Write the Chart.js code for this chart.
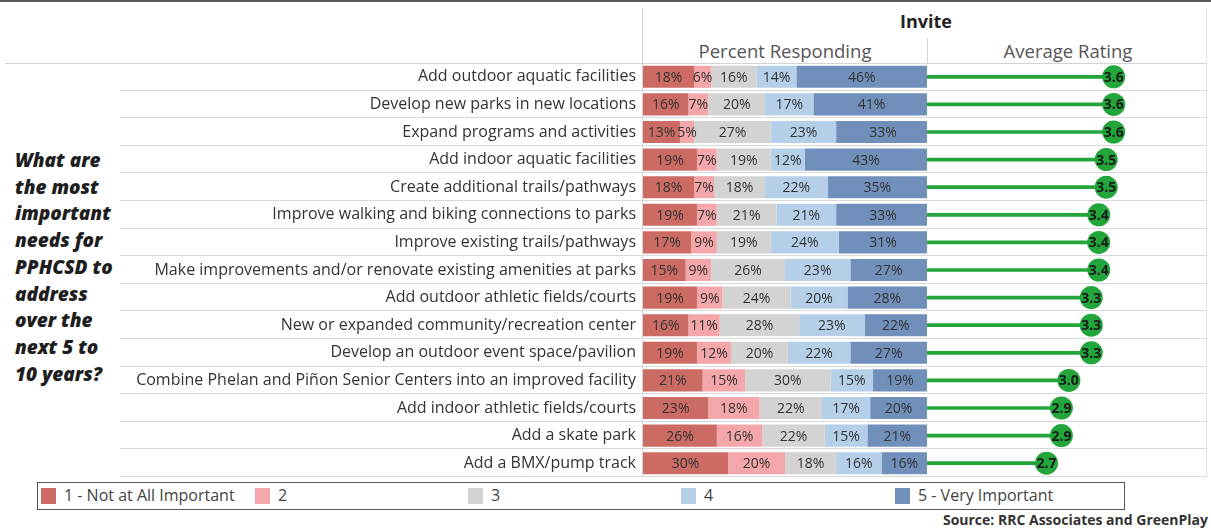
<!DOCTYPE html>
<html>
<head>
<meta charset="utf-8">
<script src="https://cdn.jsdelivr.net/npm/chart.js@4.4.1/dist/chart.umd.min.js"></script>
<style>
  body { margin: 0; background: #fff; font-family: 'Open Sans', sans-serif; }
  #page { position: relative; width: 1211px; height: 529px; overflow: hidden; background: #fff; }
  .abs { position: absolute; }
  .rule { position: absolute; background: #d4d4d4; }
  #topRule { left: 0; top: 0; width: 1211px; height: 2px; background: #5a5a5a; }
  #title { left: 870px; width: 112px; top: 9px; text-align: center; font-weight: 700; font-size: 18px; color: #222; }
  .sub { top: 38px; text-align: center; font-size: 18.5px; color: #555; white-space: nowrap; }
  #question { left: 15px; top: 147px; font-weight: 800; font-style: italic; font-size: 19px; line-height: 26.7px; color: #1e1e1e; }
  #barCanvas { position: absolute; left: 0; top: 63px; }
  #rateCanvas { position: absolute; left: 927px; top: 63px; }
  #legend { left: 37px; top: 482px; width: 1086px; height: 26px; border: 1px solid #555; }
  .swatch { position: absolute; top: 5px; width: 15px; height: 16px; }
  .legText { position: absolute; top: 1px; font-size: 16px; color: #444; white-space: nowrap; }
  #source { right: 3px; top: 510px; font-weight: 700; font-size: 14px; color: #333; }
</style>
</head>
<body>
<div id="page">
  <div id="topRule" class="abs"></div>
  <div class="rule" style="left:5px; top:63px; width:1202px; height:1px;"></div>
  <div class="rule" style="left:642px; top:8px; width:1px; height:469px;"></div>
  <div class="rule" style="left:927px; top:38px; width:1px; height:26px;"></div>
  <div class="rule" style="left:1206px; top:8px; width:1px; height:469px; background:#e4e4e4;"></div>
  <div id="title" class="abs">Invite</div>
  <div class="abs sub" style="left:643px; width:284px;">Percent Responding</div>
  <div class="abs sub" style="left:928px; width:280px;">Average Rating</div>
  <div id="question" class="abs">What are<br>the most<br>important<br>needs for<br>PPHCSD to<br>address<br>over the<br>next 5 to<br>10 years?</div>
  <canvas id="barCanvas" width="927" height="414"></canvas>
  <canvas id="rateCanvas" width="280" height="414"></canvas>
  <div id="legend" class="abs"></div>
  <div id="source" class="abs">Source: RRC Associates and GreenPlay</div>
</div>
<script>
// Needs asked about, top to bottom
const categories = [
  'Add outdoor aquatic facilities',
  'Develop new parks in new locations',
  'Expand programs and activities',
  'Add indoor aquatic facilities',
  'Create additional trails/pathways',
  'Improve walking and biking connections to parks',
  'Improve existing trails/pathways',
  'Make improvements and/or renovate existing amenities at parks',
  'Add outdoor athletic fields/courts',
  'New or expanded community/recreation center',
  'Develop an outdoor event space/pavilion',
  'Combine Phelan and Piñon Senior Centers into an improved facility',
  'Add indoor athletic fields/courts',
  'Add a skate park',
  'Add a BMX/pump track'
];

// Importance scale
const levels = ['1 - Not at All Important', '2', '3', '4', '5 - Very Important'];

// Percent responding at each level
const notAtAll = [18, 16, 13, 19, 18, 19, 17, 15, 19, 16, 19, 21, 23, 26, 30];
const level2 = [6, 7, 5, 7, 7, 7, 9, 9, 9, 11, 12, 15, 18, 16, 20];
const level3 = [16, 20, 27, 19, 18, 21, 19, 26, 24, 28, 20, 30, 22, 22, 18];
const level4 = [14, 17, 23, 12, 22, 21, 24, 23, 20, 23, 22, 15, 17, 15, 16];
const veryImportant = [46, 41, 33, 43, 35, 33, 31, 27, 28, 22, 27, 19, 20, 21, 16];

// Average rating (1-5)
const avgRating = [3.6, 3.6, 3.6, 3.5, 3.5, 3.4, 3.4, 3.4, 3.3, 3.3, 3.3, 3.0, 2.9, 2.9, 2.7];

const levelColors = ['#cc6b63', '#f4a7ab', '#d3d3d3', '#b6cfe9', '#7090bb'];
const ratingGreen = '#22a53a';

/**
 * Draws the thin separators between rows, starting at fromX
 */
function rowLines(fromX) {
  return {
    id: 'rowLines',
    beforeDatasetsDraw(chart) {
      const y = chart.scales.y;
      const n = chart.data.labels.length;
      const half = (y.getPixelForValue(1) - y.getPixelForValue(0)) / 2;
      const ctx = chart.ctx;
      ctx.save();
      ctx.strokeStyle = '#d8d8d8';
      ctx.lineWidth = 1;
      for (let i = 1; i <= n; i++) {
        const py = Math.round(y.getPixelForValue(i - 1) + half) - 0.5;
        ctx.beginPath();
        ctx.moveTo(fromX, py);
        ctx.lineTo(chart.width, py);
        ctx.stroke();
      }
      ctx.restore();
    },
  };
}

// Percent text centred in each bar segment
const segmentLabels = {
  id: 'segmentLabels',
  afterDatasetsDraw(chart) {
    const ctx = chart.ctx;
    ctx.save();
    ctx.font = '14px "Open Sans"';
    ctx.fillStyle = '#333';
    ctx.textAlign = 'center';
    ctx.textBaseline = 'middle';
    chart.data.datasets.forEach((ds, di) => {
      chart.getDatasetMeta(di).data.forEach((bar, i) => {
        ctx.fillText(`${ds.data[i]}%`, (bar.x + bar.base) / 2, bar.y + 1);
      });
    });
    ctx.restore();
  },
};

// Rating value written on top of each dot
const dotLabels = {
  id: 'dotLabels',
  afterDatasetsDraw(chart) {
    const ctx = chart.ctx;
    const ds = chart.data.datasets[1];
    ctx.save();
    ctx.font = 'bold 14px "Open Sans"';
    ctx.fillStyle = '#1a1a1a';
    ctx.textAlign = 'center';
    ctx.textBaseline = 'middle';
    chart.getDatasetMeta(1).data.forEach((pt, i) => {
      ctx.fillText(ds.data[i].toFixed(1), pt.x, pt.y + 1);
    });
    ctx.restore();
  },
};

const seriesValues = [notAtAll, level2, level3, level4, veryImportant];

new Chart(document.getElementById('barCanvas'), {
  type: 'bar',
  data: {
    labels: categories,
    datasets: seriesValues.map((values, i) => ({
      label: levels[i],
      data: values,
      backgroundColor: levelColors[i],
      borderWidth: 0,
      barPercentage: 0.8,
      categoryPercentage: 1,
    })),
  },
  options: {
    indexAxis: 'y',
    responsive: false,
    animation: false,
    layout: { padding: 0, autoPadding: false },
    plugins: { legend: { display: false }, tooltip: { enabled: false } },
    scales: {
      x: { stacked: true, min: 0, max: 100, display: false },
      y: {
        stacked: true,
        grid: { display: false, drawTicks: false },
        border: { display: false },
        ticks: {
          padding: 7,
          color: '#333',
          font: { family: 'Open Sans', size: 16 },
        },
        afterFit(scale) {
          // fixed label column, no extra room above/below the rows
          scale.width = 643;
          scale.paddingTop = 0;
          scale.paddingBottom = 0;
        },
      },
    },
  },
  plugins: [rowLines(120), segmentLabels],
});

new Chart(document.getElementById('rateCanvas'), {
  type: 'bar',
  data: {
    labels: categories,
    datasets: [
      {
        type: 'bar',
        data: avgRating,
        backgroundColor: ratingGreen,
        barThickness: 3,
      },
      {
        type: 'line',
        data: avgRating,
        showLine: false,
        pointRadius: 11.5,
        pointBackgroundColor: ratingGreen,
        pointBorderWidth: 0,
      },
    ],
  },
  options: {
    indexAxis: 'y',
    responsive: false,
    animation: false,
    layout: { padding: 0, autoPadding: false },
    plugins: { legend: { display: false }, tooltip: { enabled: false } },
    scales: {
      x: { min: 1.1, max: 4.85, display: false },
      y: { display: false, offset: true },
    },
  },
  plugins: [rowLines(0), dotLabels],
});

// Legend strip
const legendX = [3, 217, 430, 643, 857];
const legend = document.getElementById('legend');
levels.forEach((name, i) => {
  const sw = document.createElement('div');
  sw.className = 'swatch';
  sw.style.left = `${legendX[i]}px`;
  sw.style.background = levelColors[i];
  legend.appendChild(sw);
  const tx = document.createElement('div');
  tx.className = 'legText';
  tx.style.left = `${legendX[i] + 23}px`;
  tx.textContent = name;
  legend.appendChild(tx);
});
</script>
</body>
</html>
